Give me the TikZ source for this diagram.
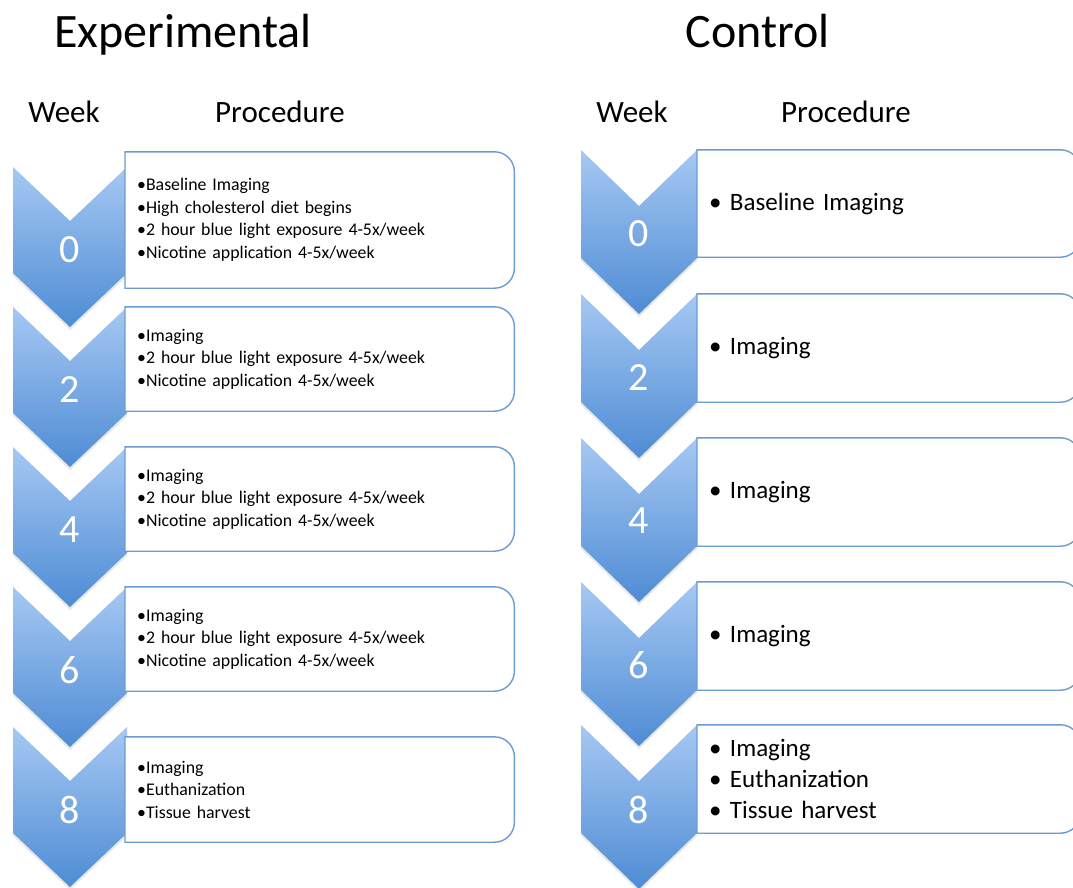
\documentclass[tikz,border=0pt]{standalone}
\usepackage{fontspec}
\setmainfont{Carlito}
\usetikzlibrary{shadows}

\definecolor{boxblue}{RGB}{106,155,211}
\definecolor{chevtop}{RGB}{166,200,243}
\definecolor{chevbot}{RGB}{78,140,212}

\begin{document}
\begin{tikzpicture}[x=1pt,y=1pt,
    chevron/.style={top color=chevtop,bottom color=chevbot,draw=none,
        drop shadow={opacity=0.18,shadow xshift=0pt,shadow yshift=-3pt}},
    weeknum/.style={text=white,font=\fontsize{40}{40}\selectfont},
    heading/.style={anchor=base,font=\fontsize{31}{31}\selectfont},
    titletext/.style={anchor=base,font=\fontsize{48}{48}\selectfont},
    expbox/.style={anchor=west,fill=white,inner xsep=12pt,inner ysep=0pt,
        text width=365pt,align=left,font=\fontsize{17.8}{22.5}\selectfont},
    ctlbox/.style={anchor=west,fill=white,inner xsep=12pt,inner ysep=0pt,
        text width=359pt,align=left,font=\fontsize{25}{31}\selectfont},
    boxline/.style={draw=boxblue,line width=1.4pt}]
\useasboundingbox (0,0) rectangle (1073,-888);

% headings
\node[titletext] (t-exp) at (183,-48) {Experimental};
\node[titletext] (t-ctl) at (758,-48) {Control};
\node[heading] (wk-exp) at (64,-123) {Week};
\node[heading] (pr-exp) at (280,-123) {Procedure};
\node[heading] (wk-ctl) at (632,-123) {Week};
\node[heading] (pr-ctl) at (846,-123) {Procedure};

% experimental chevrons
\draw[chevron] (13,-167) -- ++(57,-54) -- ++(57,54) -- ++(0,-106) -- ++(-57,-54) -- ++(-57,54) -- cycle;
\draw[chevron] (13,-307) -- ++(57,-54) -- ++(57,54) -- ++(0,-106) -- ++(-57,-54) -- ++(-57,54) -- cycle;
\draw[chevron] (13,-447) -- ++(57,-54) -- ++(57,54) -- ++(0,-106) -- ++(-57,-54) -- ++(-57,54) -- cycle;
\draw[chevron] (13,-587) -- ++(57,-54) -- ++(57,54) -- ++(0,-106) -- ++(-57,-54) -- ++(-57,54) -- cycle;
\draw[chevron] (13,-727) -- ++(57,-54) -- ++(57,54) -- ++(0,-106) -- ++(-57,-54) -- ++(-57,54) -- cycle;
\node[weeknum] (n-e0) at (70,-250) {0};
\node[weeknum] (n-e2) at (70,-390) {2};
\node[weeknum] (n-e4) at (70,-530) {4};
\node[weeknum] (n-e6) at (70,-670) {6};
\node[weeknum] (n-e8) at (70,-810) {8};

% control chevrons
\draw[chevron] (581,-150) -- ++(58,-56) -- ++(58,56) -- ++(0,-108) -- ++(-58,-56) -- ++(-58,56) -- cycle;
\draw[chevron] (581,-294) -- ++(58,-56) -- ++(58,56) -- ++(0,-108) -- ++(-58,-56) -- ++(-58,56) -- cycle;
\draw[chevron] (581,-438) -- ++(58,-56) -- ++(58,56) -- ++(0,-108) -- ++(-58,-56) -- ++(-58,56) -- cycle;
\draw[chevron] (581,-582) -- ++(58,-56) -- ++(58,56) -- ++(0,-108) -- ++(-58,-56) -- ++(-58,56) -- cycle;
\draw[chevron] (581,-725) -- ++(58,-56) -- ++(58,56) -- ++(0,-108) -- ++(-58,-56) -- ++(-58,56) -- cycle;
\node[weeknum] (n-c0) at (639,-234) {0};
\node[weeknum] (n-c2) at (639,-378) {2};
\node[weeknum] (n-c4) at (639,-521) {4};
\node[weeknum] (n-c6) at (639,-665) {6};
\node[weeknum] (n-c8) at (639,-810) {8};

% procedure boxes
\node[expbox,minimum height=136pt] (e0) at (125,-220) {•Baseline Imaging\\•High cholesterol diet begins\\•2 hour blue light exposure 4-5x/week\\•Nicotine application 4-5x/week};
\node[expbox,minimum height=104pt] (e2) at (125,-359) {•Imaging\\•2 hour blue light exposure 4-5x/week\\•Nicotine application 4-5x/week};
\node[expbox,minimum height=104pt] (e4) at (125,-499) {•Imaging\\•2 hour blue light exposure 4-5x/week\\•Nicotine application 4-5x/week};
\node[expbox,minimum height=104pt] (e6) at (125,-639) {•Imaging\\•2 hour blue light exposure 4-5x/week\\•Nicotine application 4-5x/week};
\node[expbox,minimum height=105pt] (e8) at (125,-789.5) {•Imaging\\•Euthanization\\•Tissue harvest};
\node[ctlbox,minimum height=107pt] (c0) at (697,-203.5) {• Baseline Imaging};
\node[ctlbox,minimum height=108pt] (c2) at (697,-348) {• Imaging};
\node[ctlbox,minimum height=108pt] (c4) at (697,-492) {• Imaging};
\node[ctlbox,minimum height=108pt] (c6) at (697,-636) {• Imaging};
\node[ctlbox,minimum height=108pt] (c8) at (697,-779) {• Imaging\\• Euthanization\\• Tissue harvest};

% box outlines, round on the right only
\foreach \b in {e0,e2,e4,e6,e8,c0,c2,c4,c6,c8}
  \draw[boxline] (\b.north west) -- ([xshift=-20pt]\b.north east)
    arc[start angle=90,end angle=0,radius=20pt] -- ([yshift=20pt]\b.south east)
    arc[start angle=0,end angle=-90,radius=20pt] -- (\b.south west) -- cycle;
\end{tikzpicture}
\end{document}
